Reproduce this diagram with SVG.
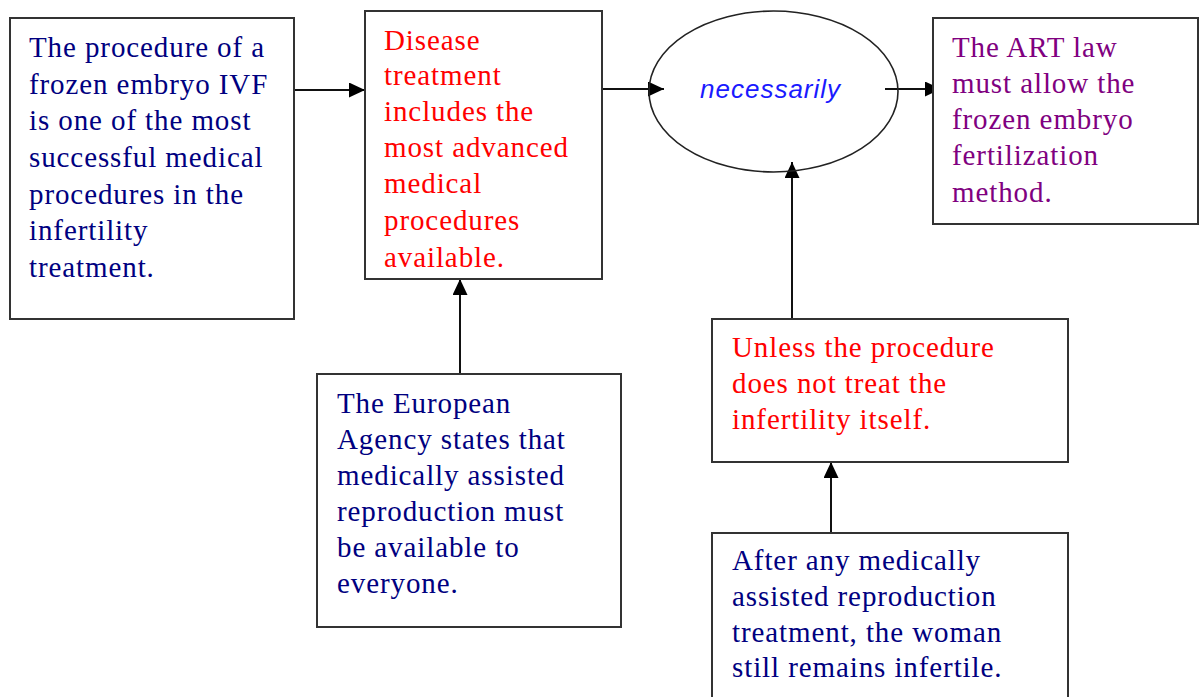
<svg xmlns="http://www.w3.org/2000/svg" width="1199" height="697" viewBox="0 0 1199 697">
<style>
.box{fill:#fff;stroke:#333;stroke-width:2}
.t{font-family:"Liberation Serif","Times New Roman",serif;font-size:29px;letter-spacing:0.9px}
.navy{fill:#000080}.red{fill:#ff0000}.purple{fill:#800080}
.conn{stroke:#111;stroke-width:2;fill:none;marker-end:url(#ah)}
</style>
<defs>
<marker id="ah" markerUnits="userSpaceOnUse" markerWidth="18" markerHeight="16" refX="16" refY="7.5" orient="auto">
<path d="M0,0 L16,7.5 L0,15 Z" fill="#000"/>
</marker>
</defs>
<rect width="1199" height="697" fill="#fff"/>
<g id="connectors">
<line class="conn" x1="294" y1="90" x2="365" y2="90"/>
<line class="conn" x1="602" y1="89" x2="664" y2="89"/>
<line class="conn" x1="885" y1="89" x2="941" y2="89"/>
<line class="conn" x1="460" y1="374" x2="460" y2="279"/>
<line class="conn" x1="792" y1="319" x2="792" y2="162"/>
<line class="conn" x1="831" y1="532" x2="831" y2="462"/>
</g>
<g id="node1">
<rect class="box" x="10" y="18" width="284" height="301"/>
<text class="t navy"><tspan x="29" y="57">The procedure of a</tspan><tspan x="29" y="93.5">frozen embryo IVF</tspan><tspan x="29" y="130">is one of the most</tspan><tspan x="29" y="167">successful medical</tspan><tspan x="29" y="203.5">procedures in the</tspan><tspan x="29" y="240">infertility</tspan><tspan x="29" y="277">treatment.</tspan></text>
</g>
<g id="node2">
<rect class="box" x="365" y="11" width="237" height="268"/>
<text class="t red"><tspan x="384" y="49.5">Disease</tspan><tspan x="384" y="85">treatment</tspan><tspan x="384" y="120.5">includes the</tspan><tspan x="384" y="157">most advanced</tspan><tspan x="384" y="193">medical</tspan><tspan x="384" y="230">procedures</tspan><tspan x="384" y="266.5">available.</tspan></text>
</g>
<g id="node3">
<ellipse cx="773.5" cy="91.5" rx="124.5" ry="80.5" fill="none" stroke="#222" stroke-width="1.6"/>
<text x="700" y="98" font-family="Liberation Sans, Arial, sans-serif" font-style="italic" font-size="26" letter-spacing="1" fill="#1a1aff">necessarily</text>
</g>
<g id="node4">
<rect class="box" x="933" y="18" width="265" height="206"/>
<text class="t purple"><tspan x="952" y="57">The ART law</tspan><tspan x="952" y="93">must allow the</tspan><tspan x="952" y="128.5">frozen embryo</tspan><tspan x="952" y="165">fertilization</tspan><tspan x="952" y="201.5">method.</tspan></text>
</g>
<g id="node5">
<rect class="box" x="317" y="374" width="304" height="253"/>
<text class="t navy"><tspan x="337" y="412.5">The European</tspan><tspan x="337" y="448.5">Agency states that</tspan><tspan x="337" y="484.5">medically assisted</tspan><tspan x="337" y="520.5">reproduction must</tspan><tspan x="337" y="556.5">be available to</tspan><tspan x="337" y="592.5">everyone.</tspan></text>
</g>
<g id="node6">
<rect class="box" x="712" y="319" width="356" height="143"/>
<text class="t red"><tspan x="732" y="357">Unless the procedure</tspan><tspan x="732" y="393">does not treat the</tspan><tspan x="732" y="428.5">infertility itself.</tspan></text>
</g>
<g id="node7">
<rect class="box" x="712" y="533" width="356" height="172"/>
<text class="t navy"><tspan x="732" y="570">After any medically</tspan><tspan x="732" y="606">assisted reproduction</tspan><tspan x="732" y="641.5">treatment, the woman</tspan><tspan x="732" y="677">still remains infertile.</tspan></text>
</g>
</svg>
